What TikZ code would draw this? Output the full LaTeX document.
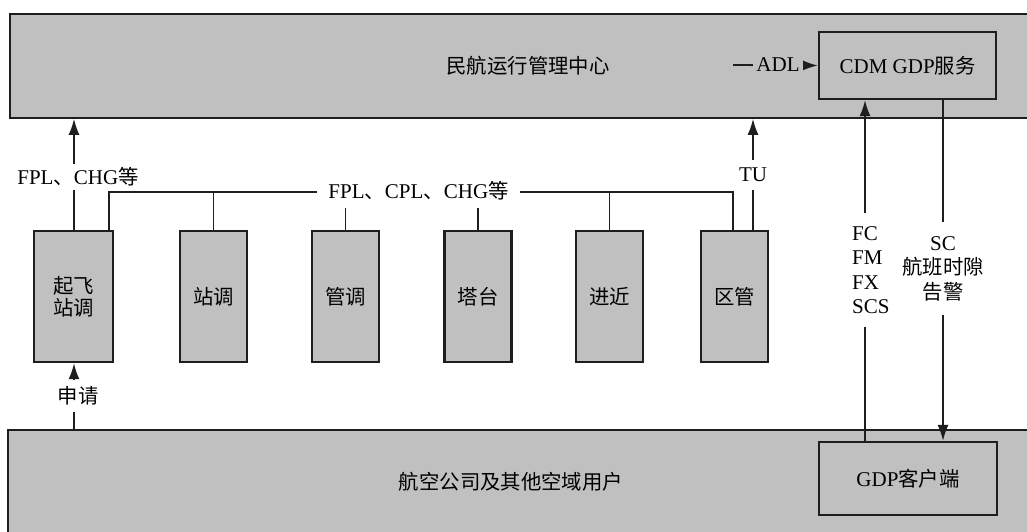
\documentclass[tikz,border=0pt]{standalone}
\usepackage{fontspec}
\setmainfont{Liberation Serif}
\newfontfamily\cjk[Scale=0.97]{Noto Sans CJK SC}
\usetikzlibrary{arrows.meta}
\definecolor{boxgray}{HTML}{C0C0C0}
\definecolor{ink}{HTML}{1E1E1E}
\tikzset{
  big/.style={draw=ink, fill=boxgray, line width=1.8pt, inner sep=0pt, anchor=north west},
  unit/.style={draw=ink, fill=boxgray, line width=2.2pt, minimum width=67pt, minimum height=131pt, inner sep=0pt, align=center, anchor=north},
  inner/.style={draw=ink, fill=boxgray, line width=2.2pt, inner sep=0pt},
  conn/.style={draw=ink, line width=1.8pt},
  arr/.style={conn, -{Latex[length=16pt,width=11pt]}},
  lab/.style={fill=white, inner sep=0pt, align=center},
  txt/.style={inner sep=0pt, align=center}
}
\begin{document}
\begin{tikzpicture}[x=1pt, y=-1pt, font=\fontsize{21}{24.5}\selectfont]
\useasboundingbox[fill=white] (0,0) rectangle (1027,532);
% big boxes
\node[big, minimum width=1040pt, minimum height=104pt] (ops) at (9,13) {};
\node[txt] (opstext) at (528,66) {\cjk 民航运行管理中心};
\node[big, minimum width=1040pt, minimum height=120pt] (air) at (7,429) {};
\node[txt] (airtext) at (511,482) {\cjk 航空公司及其他空域用户};
% inner boxes
\node[inner, minimum width=177pt, minimum height=67pt] (cdm) at (907.5,65.5) {CDM GDP{\cjk 服务}};
\node[inner, minimum width=178pt, minimum height=73pt] (gdp) at (908,478.5) {GDP{\cjk 客户端}};
% unit boxes
\node[unit, minimum width=79pt] (qf) at (73.5,230) {\cjk 起飞\\[-2pt]\cjk 站调};
\node[unit] (zd) at (213.5,230) {\cjk 站调};
\node[unit] (gd) at (345.5,230) {\cjk 管调};
\node[unit] (tt) at (478,230) {\cjk 塔台};
\node[unit] (jj) at (609.5,230) {\cjk 进近};
\node[unit] (qg) at (734.5,230) {\cjk 区管};
% bus
\coordinate (busl) at (109,192);
\coordinate (busr) at (733,192);
\draw[conn] (qf.north -| busl) -- (busl) -- (busr) -- (qg.north -| busr);
\draw[conn] (zd.north) -- (zd.north |- busl);
\draw[conn] (gd.north) -- (gd.north |- busl);
\draw[conn] (tt.north) -- (tt.north |- busl);
\draw[conn] (jj.north) -- (jj.north |- busl);
\node[lab, minimum width=203pt, minimum height=34pt] (buslab) at (418.5,191) {FPL{\cjk 、}CPL{\cjk 、}CHG{\cjk 等}};
% FPL CHG arrow
\draw[arr] (qf.north -| 74,0) -- (ops.south -| 74,0);
\node[lab, minimum height=26pt] (fpllab) at (78,177) {FPL{\cjk 、}CHG{\cjk 等}};
% TU arrow
\draw[arr] (qg.north -| 753,0) -- (ops.south -| 753,0);
\node[lab, minimum height=30pt] (tulab) at (753,175) {TU};
% 申请
\draw[arr] (air.north -| 74,0) -- (qf.south -| 74,0);
\node[lab, minimum height=32pt] (sqlab) at (78,396) {\cjk 申请};
% ADL
\coordinate (adlstart) at (733,65);
\draw[arr] (adlstart) -- (cdm.west);
\node[txt, fill=boxgray, minimum height=20pt, minimum width=50pt] (adllab) at (778,65) {ADL};
% FC
\draw[arr] (gdp.north -| 865,0) -- (cdm.south -| 865,0);
\node[lab, align=left, minimum height=114pt, anchor=west] (fclab) at (852,270) {FC\\FM\\FX\\SCS};
% SC
\draw[arr] (cdm.south -| 943,0) -- (gdp.north -| 943,0);
\node[lab, minimum height=93pt] (sclab) at (943,268.5) {SC\\\cjk 航班时隙\\\cjk 告警};
\end{tikzpicture}
\end{document}
